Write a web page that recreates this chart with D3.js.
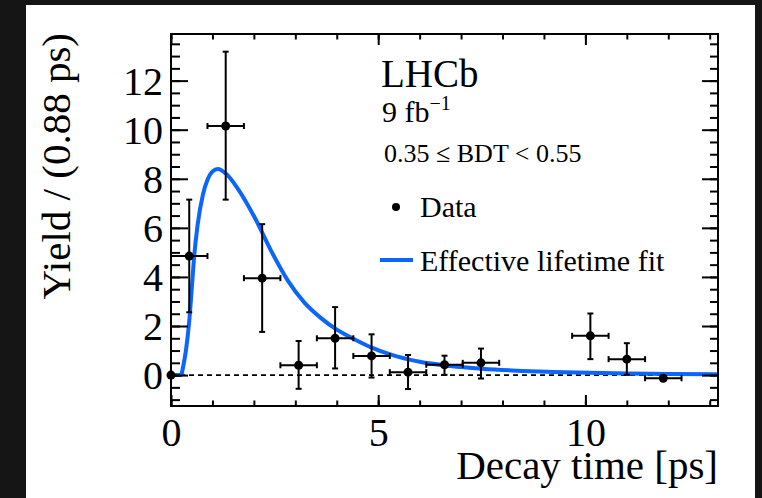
<!DOCTYPE html>
<html>
<head>
<meta charset="utf-8">
<script src="https://cdn.jsdelivr.net/npm/d3@7"></script>
<style>
  html, body { margin: 0; padding: 0; background: #151515; }
  svg { display: block; }
  text { font-family: "Liberation Serif", "Times New Roman", serif; fill: #000; }
</style>
</head>
<body>
<svg id="chart" width="762" height="498"></svg>
<script>
// ---------------- data ----------------
const binCenters = [0.44, 1.32, 2.20, 3.08, 3.96, 4.84, 5.72, 6.60, 7.48, 10.12, 11.00, 11.88];
const yields     = [4.85, 10.15, 3.95, 0.40, 1.50, 0.78, 0.12, 0.42, 0.50, 1.60, 0.65, -0.13];
const errUp      = [2.30, 3.03, 2.20, 0.99, 1.27, 0.88, 0.70, 0.37, 0.58, 0.91, 0.65, 0.00];
const errDown    = [2.29, 3.00, 2.19, 0.96, 1.23, 0.88, 0.69, 0.41, 0.64, 0.95, 0.64, 0.00];
const binHalfWidth = 0.44;
const edgePoint = [0, 0];   // marker drawn at the origin

const fitTime  = [0, 0.24, 0.30, 0.36, 0.44, 0.50, 0.56, 0.64, 0.77, 0.89, 1.00, 1.13, 1.33, 1.61, 2.01, 2.42, 2.82, 3.22, 3.62, 4.00, 4.40, 4.83, 5.29, 6.00, 6.74, 7.50, 8.35, 9.20, 10.10, 11.00, 12.00, 13.20];
const fitYield = [0, 0.00, 0.40, 1.00, 2.20, 3.50, 4.85, 6.10, 7.35, 8.00, 8.30, 8.40, 8.20, 7.60, 6.45, 5.05, 3.85, 2.95, 2.32, 1.85, 1.48, 1.13, 0.84, 0.54, 0.37, 0.26, 0.18, 0.13, 0.09, 0.06, 0.04, 0.03];

const xMajorTicks = [0, 5, 10];
const xMinorTicks = d3.range(0, 13.5, 1);
const yMajorTicks = [0, 2, 4, 6, 8, 10, 12];
const yMinorTicks = d3.range(-1, 14, 0.5);

const xTitle = "Decay time [ps]";
const yTitle = "Yield / (0.88 ps)";
const legendItems = ["Data", "Effective lifetime fit"];

// ---------------- layout ----------------
const svg = d3.select("#chart");
const L = 171, R = 718, T = 34, B = 406;
const fitColor = "#0a66ff";

svg.append("rect").attr("x", 26).attr("y", 5).attr("width", 729).attr("height", 493).attr("fill", "#ffffff");

const x = d3.scaleLinear().domain([0, 13.2]).range([L, R]);
const y = d3.scaleLinear().domain([-1.26, 13.9]).range([B, T]);

// zero line
svg.append("line")
  .attr("x1", x(0)).attr("x2", x(13.2)).attr("y1", y(0)).attr("y2", y(0))
  .attr("stroke", "#000").attr("stroke-width", 1.6).attr("stroke-dasharray", "5,4");

// fit curve
const fitPts = fitTime.map((t, i) => [t, fitYield[i]]);
svg.append("path")
  .datum(fitPts)
  .attr("fill", "none").attr("stroke", fitColor).attr("stroke-width", 4)
  .attr("stroke-linejoin", "round")
  .attr("d", d3.line().x(d => x(d[0])).y(d => y(d[1])).curve(d3.curveMonotoneX));

// data points
const pts = binCenters.map((c, i) => ({ c, v: yields[i], up: errUp[i], dn: errDown[i] }));
const g = svg.append("g").attr("stroke", "#000").attr("stroke-width", 2);
const cap = 3;
pts.forEach(p => {
  const x0 = x(p.c - binHalfWidth), x1 = x(p.c + binHalfWidth), xc = x(p.c), yc = y(p.v);
  g.append("line").attr("x1", x0).attr("x2", x1).attr("y1", yc).attr("y2", yc);
  g.append("line").attr("x1", x0).attr("x2", x0).attr("y1", yc - cap).attr("y2", yc + cap);
  g.append("line").attr("x1", x1).attr("x2", x1).attr("y1", yc - cap).attr("y2", yc + cap);
  if (p.up > 0 || p.dn > 0) {
    const yt = y(p.v + p.up), yb = y(p.v - p.dn);
    g.append("line").attr("x1", xc).attr("x2", xc).attr("y1", yt).attr("y2", yb);
    g.append("line").attr("x1", xc - cap).attr("x2", xc + cap).attr("y1", yt).attr("y2", yt);
    g.append("line").attr("x1", xc - cap).attr("x2", xc + cap).attr("y1", yb).attr("y2", yb);
  }
});
svg.selectAll("circle.pt").data(pts).join("circle")
  .attr("class", "pt").attr("cx", d => x(d.c)).attr("cy", d => y(d.v)).attr("r", 4.5).attr("fill", "#000");
svg.append("circle").attr("cx", x(edgePoint[0])).attr("cy", y(edgePoint[1])).attr("r", 4.5).attr("fill", "#000");

// axes
function styleAxis(sel) {
  sel.select(".domain").remove();
  sel.selectAll(".tick line").attr("stroke", "#000").attr("stroke-width", 2);
}
const fs = 40;
// bottom
svg.append("g").attr("transform", `translate(0,${B})`)
  .call(d3.axisBottom(x).tickValues(xMinorTicks).tickSize(-5.5).tickFormat(""))
  .call(styleAxis);
svg.append("g").attr("transform", `translate(0,${B})`)
  .call(d3.axisBottom(x).tickValues(xMajorTicks).tickSize(-11).tickPadding(12).tickFormat(d3.format("d")))
  .call(styleAxis)
  .call(s => s.selectAll("text").attr("font-size", fs).attr("font-family", "Liberation Serif"));
// top
svg.append("g").attr("transform", `translate(0,${T})`)
  .call(d3.axisTop(x).tickValues(xMinorTicks).tickSize(-5.5).tickFormat(""))
  .call(styleAxis);
svg.append("g").attr("transform", `translate(0,${T})`)
  .call(d3.axisTop(x).tickValues(xMajorTicks).tickSize(-11).tickFormat(""))
  .call(styleAxis);
// left
svg.append("g").attr("transform", `translate(${L},0)`)
  .call(d3.axisLeft(y).tickValues(yMinorTicks).tickSize(-9).tickFormat(""))
  .call(styleAxis);
svg.append("g").attr("transform", `translate(${L},0)`)
  .call(d3.axisLeft(y).tickValues(yMajorTicks).tickSize(-17).tickPadding(8).tickFormat(d3.format("d")))
  .call(styleAxis)
  .call(s => s.selectAll("text").attr("font-size", fs).attr("font-family", "Liberation Serif").attr("dy", "0.34em"));
// right
svg.append("g").attr("transform", `translate(${R},0)`)
  .call(d3.axisRight(y).tickValues(yMinorTicks).tickSize(-8).tickFormat(""))
  .call(styleAxis);
svg.append("g").attr("transform", `translate(${R},0)`)
  .call(d3.axisRight(y).tickValues(yMajorTicks).tickSize(-16).tickFormat(""))
  .call(styleAxis);

// frame
svg.append("rect").attr("x", L).attr("y", T).attr("width", R - L).attr("height", B - T)
  .attr("fill", "none").attr("stroke", "#000").attr("stroke-width", 2);

// axis titles
svg.append("text").attr("x", R).attr("y", 479).attr("text-anchor", "end")
  .attr("font-size", 41).text(xTitle);
svg.append("text").attr("transform", `translate(70,${T - 1}) rotate(-90)`).attr("text-anchor", "end")
  .attr("font-size", 41).text(yTitle);

// LHCb labels
svg.append("text").attr("x", 381).attr("y", 87).attr("font-size", 39).text("LHCb");
const lumi = svg.append("text").attr("x", 382).attr("y", 122).attr("font-size", 30);
lumi.append("tspan").text("9 fb");
lumi.append("tspan").attr("font-size", 20).attr("dy", -12).text("\u22121");
svg.append("text").attr("x", 384).attr("y", 162).attr("font-size", 26).text("0.35 \u2264 BDT < 0.55");

// legend
svg.append("circle").attr("cx", 396).attr("cy", 207).attr("r", 4).attr("fill", "#000");
svg.append("text").attr("x", 420).attr("y", 217).attr("font-size", 30).text(legendItems[0]);
svg.append("line").attr("x1", 380).attr("x2", 413).attr("y1", 260).attr("y2", 260)
  .attr("stroke", fitColor).attr("stroke-width", 4);
svg.append("text").attr("x", 420).attr("y", 271).attr("font-size", 30).text(legendItems[1]);
</script>
</body>
</html>
